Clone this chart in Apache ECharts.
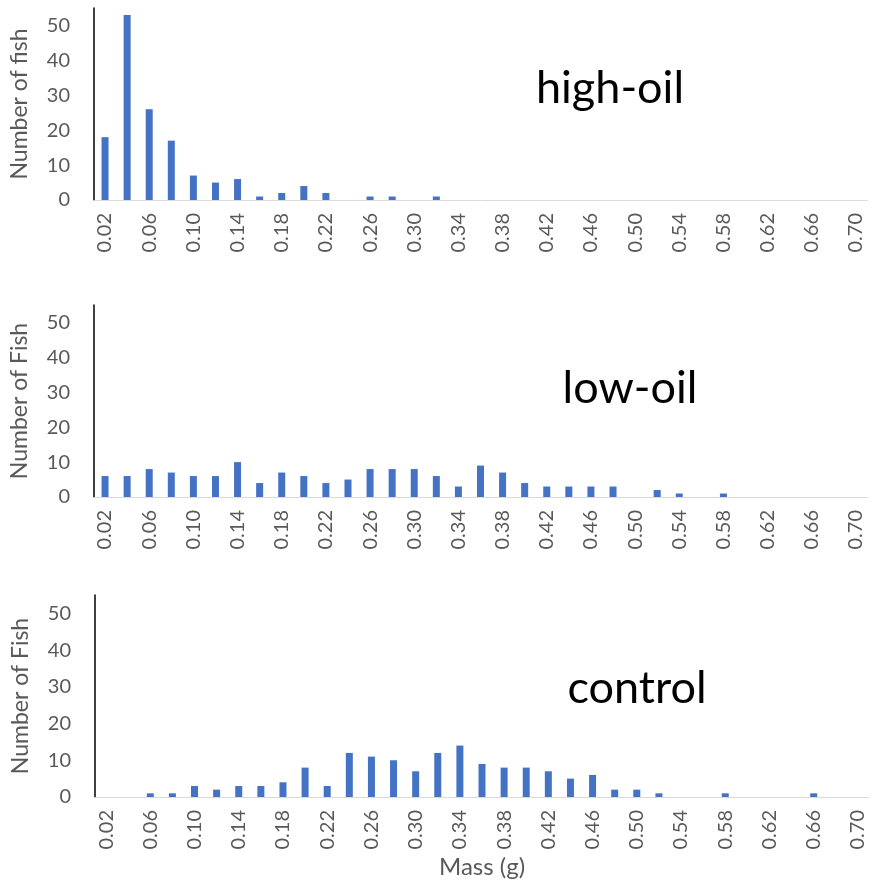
<!DOCTYPE html>
<html>
<head>
<meta charset="utf-8">
<script src="https://cdn.jsdelivr.net/npm/echarts@6/dist/echarts.min.js"></script>
<style>
  html, body { margin: 0; padding: 0; background: #fff; }
  #fishMass { width: 873px; height: 881px; }
</style>
</head>
<body>
<div id="fishMass"></div>
<script>
var massBins = ['0.02', '0.04', '0.06', '0.08', '0.10', '0.12', '0.14', '0.16', '0.18', '0.20',
  '0.22', '0.24', '0.26', '0.28', '0.30', '0.32', '0.34', '0.36', '0.38', '0.40',
  '0.42', '0.44', '0.46', '0.48', '0.50', '0.52', '0.54', '0.56', '0.58', '0.60',
  '0.62', '0.64', '0.66', '0.68', '0.70'];

var highOil = [18, 53, 26, 17, 7, 5, 6, 1, 2, 4, 2, 0, 1, 1, 0, 1, 0, 0, 0, 0,
  0, 0, 0, 0, 0, 0, 0, 0, 0, 0, 0, 0, 0, 0, 0];
var lowOil = [6, 6, 8, 7, 6, 6, 10, 4, 7, 6, 4, 5, 8, 8, 8, 6, 3, 9, 7, 4,
  3, 3, 3, 3, 0, 2, 1, 0, 1, 0, 0, 0, 0, 0, 0];
var control = [0, 0, 1, 1, 3, 2, 3, 3, 4, 8, 3, 12, 11, 10, 7, 12, 14, 9, 8, 8,
  7, 5, 6, 2, 2, 1, 0, 0, 1, 0, 0, 0, 1, 0, 0];

var panelNames = ['high-oil', 'low-oil', 'control'];
var yTitles = ['Number of fish', 'Number of Fish', 'Number of Fish'];

var fishMass = echarts.init(document.getElementById('fishMass'));

var font = 'Lato, "Open Sans", sans-serif';
var grey = '#595959';
var blue = '#4472c4';

var grids = [
  {left: 92, top: 8, width: 775, height: 192},
  {left: 92, top: 305, width: 775, height: 192},
  {left: 95, top: 595, width: 774, height: 202}
];
var titlePos = [[605, 61], [625, 361], [632, 661]];
var seriesData = [highOil, lowOil, control];

var xAxes = [], yAxes = [], series = [], titles = [];
for (var i = 0; i < 3; i++) {
  xAxes.push({
    type: 'category',
    gridIndex: i,
    data: massBins,
    axisTick: {show: false},
    axisLine: {lineStyle: {color: '#d9d9d9', width: 1}},
    axisLabel: {rotate: 90, interval: 1, color: grey, fontSize: 20, fontFamily: font, margin: 13},
    name: i === 2 ? 'Mass (g)' : '',
    nameLocation: 'middle',
    nameGap: 58,
    nameTextStyle: {color: grey, fontSize: 24, fontFamily: font}
  });
  yAxes.push({
    type: 'value',
    gridIndex: i,
    min: 0,
    max: 55,
    interval: 10,
    splitLine: {show: false},
    axisTick: {show: false},
    axisLine: {show: true, lineStyle: {color: '#000', width: 1.5}},
    axisLabel: {color: grey, fontSize: 20, fontFamily: font, margin: 24, showMaxLabel: false},
    name: yTitles[i],
    nameLocation: 'middle',
    nameGap: 63,
    nameTextStyle: {color: grey, fontSize: 23, fontFamily: font}
  });
  series.push({
    type: 'bar',
    xAxisIndex: i,
    yAxisIndex: i,
    data: seriesData[i],
    barWidth: 7,
    itemStyle: {color: blue},
    silent: true
  });
  titles.push({
    text: panelNames[i],
    left: titlePos[i][0],
    top: titlePos[i][1],
    textAlign: 'center',
    textStyle: {color: '#000', fontSize: 45, fontWeight: 'normal', fontFamily: font}
  });
}

fishMass.setOption({
  animation: false,
  title: titles,
  grid: grids,
  xAxis: xAxes,
  yAxis: yAxes,
  series: series
});
</script>
</body>
</html>
